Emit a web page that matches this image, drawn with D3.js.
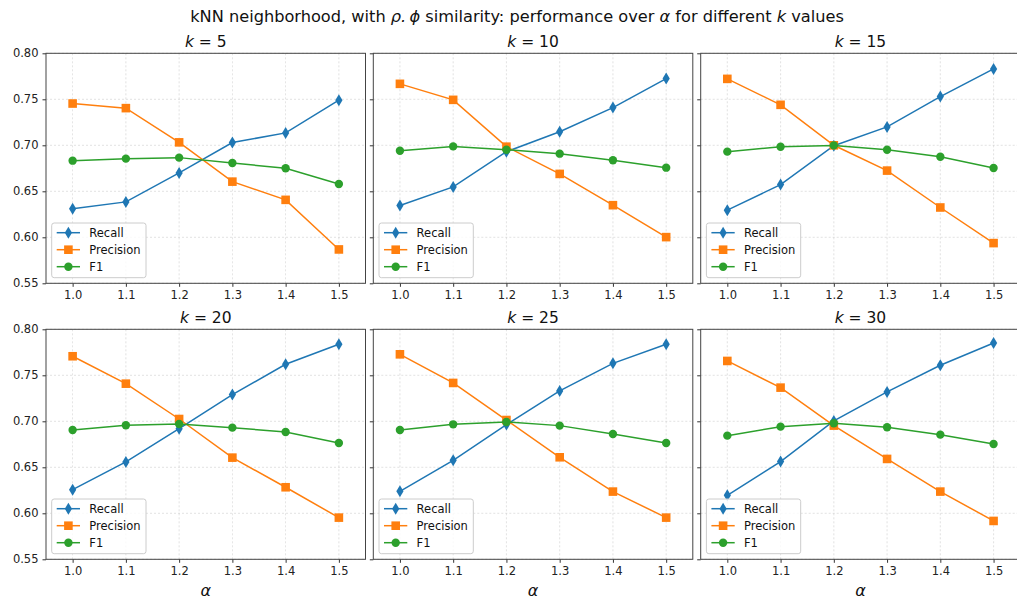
<!DOCTYPE html>
<html>
<head>
<meta charset="utf-8">
<script src="https://cdn.jsdelivr.net/npm/d3@7"></script>
<style>
  body { margin: 0; background: #fff; }
  text { font-family: "DejaVu Sans", sans-serif; }
</style>
</head>
<body>
<div id="chart"></div>
<script>
// alpha values on the x axis
const alphas = [1.0, 1.1, 1.2, 1.3, 1.4, 1.5];
const kValues = [5, 10, 15, 20, 25, 30];

// one row per k value
const recall = [
  [0.631, 0.6385, 0.670, 0.703, 0.7135, 0.749],
  [0.6345, 0.6548, 0.693, 0.7147, 0.741, 0.7725],
  [0.6295, 0.6573, 0.6995, 0.720, 0.753, 0.783],
  [0.6257, 0.6558, 0.692, 0.729, 0.762, 0.7837],
  [0.6239, 0.6576, 0.6964, 0.733, 0.763, 0.7837],
  [0.6196, 0.6562, 0.7004, 0.7319, 0.7609, 0.7851]
];
const precision = [
  [0.7454, 0.7404, 0.7032, 0.6605, 0.6407, 0.5868],
  [0.7668, 0.7494, 0.6985, 0.6689, 0.6349, 0.6002],
  [0.7722, 0.744, 0.700, 0.6725, 0.6324, 0.5937],
  [0.7707, 0.7409, 0.7025, 0.6605, 0.6283, 0.5953],
  [0.7728, 0.7417, 0.7014, 0.6609, 0.6236, 0.5953],
  [0.7656, 0.7366, 0.6953, 0.6591, 0.6236, 0.5917]
];
const f1 = [
  [0.6833, 0.6855, 0.6866, 0.6808, 0.675, 0.658],
  [0.6941, 0.6988, 0.6952, 0.6909, 0.6837, 0.6757],
  [0.6931, 0.6985, 0.6999, 0.6952, 0.6876, 0.6754],
  [0.6906, 0.6957, 0.6971, 0.6931, 0.6884, 0.6764],
  [0.6906, 0.6967, 0.6993, 0.6953, 0.6862, 0.6764],
  [0.6844, 0.6942, 0.6978, 0.6935, 0.6855, 0.6754]
];
const seriesNames = ["Recall", "Precision", "F1"];
const seriesData = [recall, precision, f1];
const colors = ["#1f77b4", "#ff7f0e", "#2ca02c"];
const markers = ["diamond", "square", "circle"];
const yTicks = [0.55, 0.60, 0.65, 0.70, 0.75, 0.80];

const W = 1017, H = 602;
const lefts = [46, 373.3, 700.7];
const tops = [53.3, 329.3];
const pw = 319.5, ph = 230;

const svg = d3.select("#chart").append("svg")
  .attr("width", W).attr("height", H);

// figure title
const title = svg.append("text")
  .attr("x", 517).attr("y", 21.5)
  .attr("text-anchor", "middle")
  .attr("font-size", 16.2).attr("fill", "#111");
title.append("tspan").text("kNN neighborhood, with ");
title.append("tspan").attr("font-style", "italic").text("ρ.\u2009ϕ");
title.append("tspan").text(" similarity: performance over ");
title.append("tspan").attr("font-style", "italic").text("α");
title.append("tspan").text(" for different ");
title.append("tspan").attr("font-style", "italic").text("k");
title.append("tspan").text(" values");

function markerPath(type) {
  if (type === "diamond") return "M0,-6L3.6,0L0,6L-3.6,0Z";
  if (type === "square") return "M-4.3,-4.3H4.3V4.3H-4.3Z";
  return d3.symbol().type(d3.symbolCircle).size(Math.PI * 4.2 * 4.2)();
}

kValues.forEach((k, i) => {
  const col = i % 3, row = Math.floor(i / 3);
  const g = svg.append("g")
    .attr("transform", `translate(${lefts[col]},${tops[row]})`);

  const x = d3.scaleLinear().domain([0.95, 1.55]).range([0, pw]);
  const y = d3.scaleLinear().domain([0.55, 0.80]).range([ph, 0]);

  // grid
  g.append("g").selectAll("line").data(alphas).join("line")
    .attr("x1", d => x(d)).attr("x2", d => x(d))
    .attr("y1", 0).attr("y2", ph)
    .attr("stroke", "#b0b0b0").attr("stroke-width", 0.6)
    .attr("stroke-dasharray", "2,2").attr("opacity", 0.6);
  g.append("g").selectAll("line").data(yTicks).join("line")
    .attr("x1", 0).attr("x2", pw)
    .attr("y1", d => y(d)).attr("y2", d => y(d))
    .attr("stroke", "#b0b0b0").attr("stroke-width", 0.6)
    .attr("stroke-dasharray", "2,2").attr("opacity", 0.6);

  // axes
  const xAxis = g.append("g").attr("transform", `translate(0,${ph})`)
    .call(d3.axisBottom(x).tickValues(alphas).tickFormat(d3.format(".1f"))
      .tickSize(3.5).tickPadding(4));
  const yAxis = g.append("g")
    .call(d3.axisLeft(y).tickValues(yTicks).tickFormat(col === 0 ? d3.format(".2f") : () => "")
      .tickSize(3.5).tickPadding(4));
  [xAxis, yAxis].forEach(a => {
    a.select(".domain").remove();
    a.selectAll(".tick line").attr("stroke", "#333");
    a.selectAll(".tick text").attr("font-size", 11.5).attr("fill", "#222")
      .attr("font-family", "DejaVu Sans, sans-serif");
  });

  // frame
  g.append("rect").attr("width", pw).attr("height", ph)
    .attr("fill", "none").attr("stroke", "#444").attr("stroke-width", 1);

  // panel title
  const t = g.append("text").attr("x", pw / 2).attr("y", -6)
    .attr("text-anchor", "middle").attr("font-size", 15.5).attr("fill", "#111");
  t.append("tspan").attr("font-style", "italic").text("k");
  t.append("tspan").text(" = " + k);

  if (row === 1) {
    g.append("text").attr("x", pw / 2).attr("y", ph + 37)
      .attr("text-anchor", "middle").attr("font-size", 16)
      .attr("font-style", "italic").attr("fill", "#111").text("α");
  }

  // series
  const line = d3.line().x((d, j) => x(alphas[j])).y(d => y(d));
  seriesData.forEach((s, si) => {
    const vals = s[i];
    g.append("path").datum(vals)
      .attr("d", line).attr("fill", "none")
      .attr("stroke", colors[si]).attr("stroke-width", 1.5);
    g.append("g").selectAll("path").data(vals).join("path")
      .attr("transform", (d, j) => `translate(${x(alphas[j])},${y(d)})`)
      .attr("d", markerPath(markers[si]))
      .attr("fill", colors[si]);
  });

  // legend
  const lg = g.append("g").attr("transform", "translate(5.7,169.7)");
  lg.append("rect").attr("width", 94.3).attr("height", 54.7)
    .attr("rx", 2.5).attr("fill", "#fff").attr("fill-opacity", 0.8)
    .attr("stroke", "#ccc").attr("stroke-width", 1);
  seriesNames.forEach((name, si) => {
    const yy = 9.7 + si * 17;
    lg.append("line").attr("x1", 5).attr("x2", 28.3)
      .attr("y1", yy).attr("y2", yy)
      .attr("stroke", colors[si]).attr("stroke-width", 1.5);
    lg.append("path").attr("transform", `translate(16.7,${yy})`)
      .attr("d", markerPath(markers[si])).attr("fill", colors[si]);
    lg.append("text").attr("x", 37.6).attr("y", yy + 4)
      .attr("font-size", 11.5).attr("fill", "#111").text(name);
  });
});
</script>
</body>
</html>
